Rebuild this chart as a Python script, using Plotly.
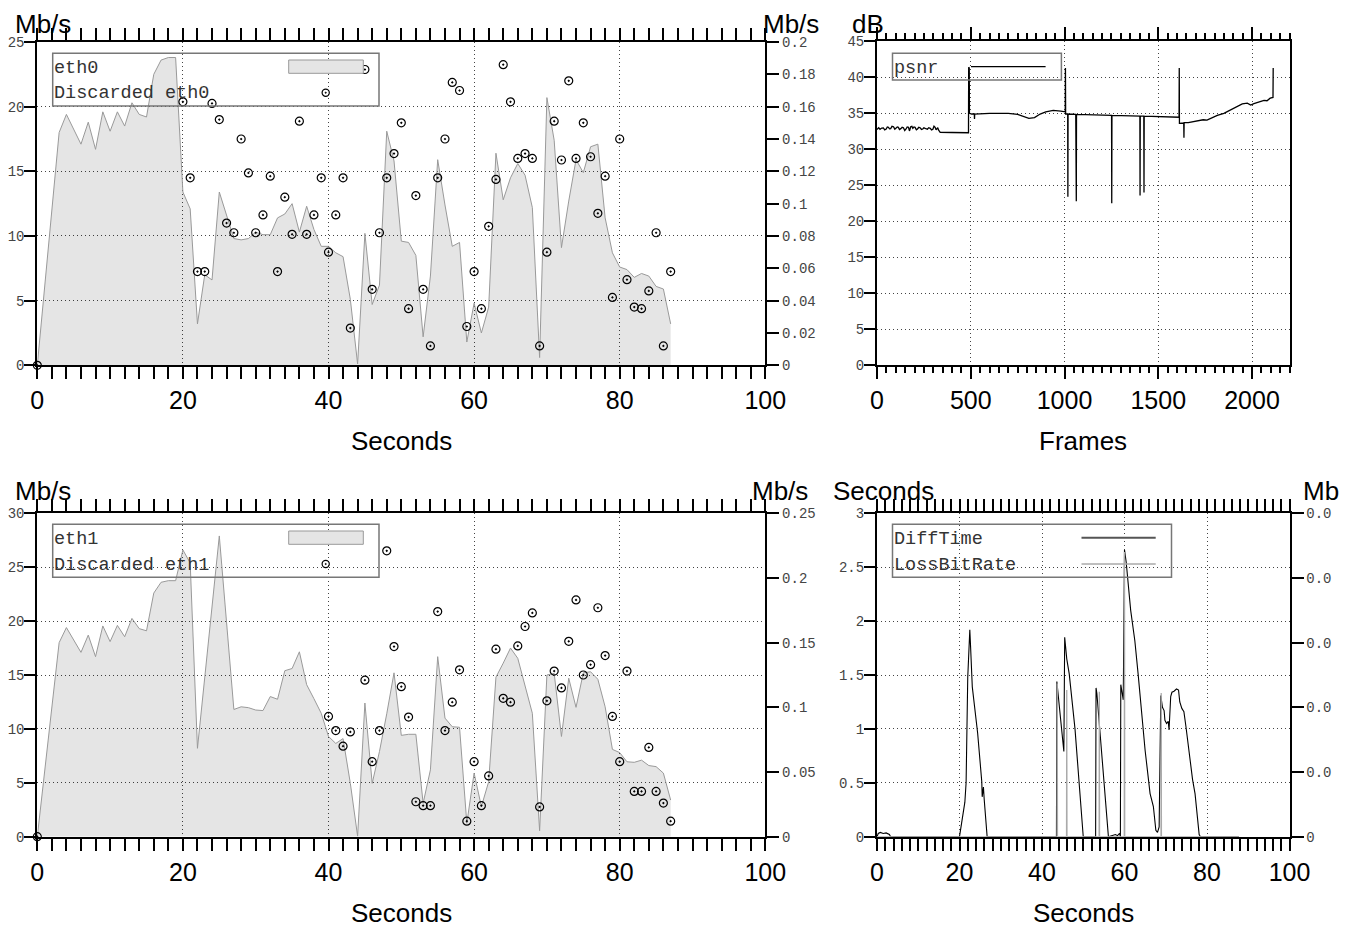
import plotly.graph_objects as go

# the page has an 8px body margin, so the figure is drawn 8px in from the top-left corner
OFF = 8
W, H = 1356 - OFF, 931 - OFF

# ---------------- data ----------------
eth0_t = [0, 3, 4, 6, 7, 8, 9, 10, 11, 12, 13, 14, 15, 16, 17, 18, 19, 20, 21, 22, 23, 24, 25, 26, 27, 28, 29,
          30, 31, 32, 33, 34, 35, 36, 37, 38, 39, 40, 41, 42, 43, 44, 45, 46, 47, 48, 49, 50, 51, 52, 53, 54,
          55, 56, 57, 58, 59, 60, 61, 62, 63, 64, 65, 66, 67, 68, 69, 70, 71, 72, 73, 74, 75, 76, 77, 78, 79,
          80, 81, 82, 83, 84, 85, 86, 87]
eth0_mbps = [0, 18.0, 19.4, 17.1, 18.8, 16.7, 19.6, 18.1, 19.6, 18.5, 20.3, 19.4, 19.2, 22.5, 23.6, 23.8, 23.8,
             13.4, 12.1, 3.2, 7.0, 6.6, 13.4, 11.6, 9.8, 9.7, 9.8,
             10.3, 10.1, 10.1, 11.4, 11.7, 12.5, 10.3, 12.3, 10.5, 9.2, 9.2, 8.7, 8.4, 5.1, 0.1, 10.2, 4.7, 6.2,
             18.1, 15.8, 9.6, 9.5, 8.5, 2.2, 6.9,
             15.9, 12.4, 9.2, 9.5, 1.8, 4.8, 2.5, 4.5, 16.4, 12.8, 14.5, 15.6, 14.7, 12.2, 0.6, 20.7, 17.4, 9.1,
             12.7, 15.9, 14.9, 16.9, 17.1, 11.4, 8.7,
             7.6, 7.4, 6.8, 7.1, 6.9, 6.1, 5.9, 3.2]

eth0_drop_t = [0, 20, 21, 22, 23, 24, 25, 26, 27, 28, 29, 30, 31, 32, 33, 34, 35, 36, 37, 38, 39, 40, 41, 42, 43,
               45, 46, 47, 48, 49, 50, 51, 52, 53, 54, 55, 56, 57, 58, 59, 60, 61, 62, 63, 64, 65, 66, 67, 68,
               69, 70, 71, 72, 73, 74, 75, 76, 77, 78, 79, 80, 81, 82, 83, 84, 85, 86, 87]
eth0_drop = [0, 0.163, 0.116, 0.058, 0.058, 0.162, 0.152, 0.088, 0.082, 0.140, 0.119, 0.082, 0.093, 0.117, 0.058,
             0.104, 0.081, 0.151, 0.081, 0.093, 0.116, 0.070, 0.093, 0.116, 0.023,
             0.183, 0.047, 0.082, 0.116, 0.131, 0.150, 0.035, 0.105, 0.047, 0.012, 0.116, 0.140, 0.175, 0.170,
             0.024, 0.058, 0.035, 0.086, 0.115, 0.186, 0.163, 0.128, 0.131, 0.128,
             0.012, 0.070, 0.151, 0.127, 0.176, 0.128, 0.150, 0.129, 0.094, 0.117, 0.042, 0.140, 0.053, 0.036,
             0.035, 0.046, 0.082, 0.012, 0.058]

eth1_t = [0, 3, 4, 6, 7, 8, 9, 10, 11, 12, 13, 14, 15, 16, 17, 18, 19, 20, 21, 22, 25, 27, 28, 29,
          30, 31, 32, 33, 34, 35, 36, 37, 38, 39, 40, 41, 42, 43, 44, 45, 46, 47, 48, 49, 50, 51, 52, 53, 54,
          55, 56, 57, 58, 59, 60, 61, 62, 63, 64, 65, 66, 67, 68, 69, 70, 71, 72, 73, 74, 75, 76, 77, 78, 79,
          80, 81, 82, 83, 84, 85, 86, 87]
eth1_mbps = [0, 18.0, 19.4, 17.1, 18.7, 16.7, 19.55, 18.1, 19.6, 18.55, 20.25, 19.3, 19.1, 22.6, 23.6, 23.75,
             23.75, 26.6, 25.4, 8.2, 27.9, 11.8, 12.05, 11.97,
             11.75, 11.7, 13.0, 12.75, 15.4, 15.6, 17.15, 14.1, 12.8, 11.45, 9.3, 8.65, 9.1, 4.95, 0.05, 12.4,
             4.95, 7.9, 11.4, 15.2, 9.4, 9.5, 9.5, 3.1, 6.2,
             16.7, 11.0, 10.2, 10.15, 1.25, 5.9, 2.8, 5.1, 14.8, 16.1, 17.5, 16.55, 14.1, 11.45, 0.55, 15.0,
             15.15, 9.3, 14.7, 12.0, 15.2, 15.3, 14.6, 12.05, 8.1,
             7.8, 6.95, 6.9, 7.1, 6.6, 6.5, 5.9, 3.4]

eth1_drop_t = [0, 40, 41, 42, 43, 45, 46, 47, 48, 49, 50, 51, 52, 53, 54, 55, 56, 57, 58, 59, 60, 61, 62, 63,
               64, 65, 66, 67, 68, 69, 70, 71, 72, 73, 74, 75, 76, 77, 78, 79, 80, 81, 82, 83, 84, 85, 86, 87]
eth1_drop = [0, 0.093, 0.082, 0.070, 0.081, 0.121, 0.058, 0.082, 0.221, 0.147, 0.116, 0.0925, 0.027, 0.024,
             0.024, 0.174, 0.082, 0.104, 0.129, 0.012, 0.058, 0.024, 0.047, 0.145,
             0.107, 0.104, 0.1475, 0.1625, 0.173, 0.023, 0.105, 0.128, 0.115, 0.151, 0.183, 0.125, 0.133,
             0.177, 0.140, 0.093, 0.058, 0.128, 0.035, 0.035, 0.069, 0.035, 0.026, 0.012]

psnr_frame = [0, 2, 9, 16, 25, 34, 41, 49, 55, 61, 67, 73, 80, 88, 95, 102, 108, 114, 120, 127, 134, 141, 148,
              155, 161, 168, 173, 180, 186, 191, 197, 203, 210, 216, 223, 230, 237, 244, 250, 257, 263, 269,
              276, 284, 291, 298, 304, 310, 315, 319, 324, 328, 337, 400, 488, 489, 492, 493, 505, 519, 520,
              521, 600, 700, 750, 780, 810, 840, 870, 900, 940, 980, 1004, 1005, 1006, 1017, 1018, 1019, 1060,
              1061, 1063, 1064, 1251, 1252, 1253, 1402, 1403, 1404, 1423, 1424, 1425, 1611, 1612, 1613, 1636,
              1637, 1638, 1660, 1690, 1707, 1740, 1760, 1778, 1815, 1850, 1880, 1903, 1930, 1948, 1975, 1993,
              2010, 2029, 2064, 2080, 2097, 2112, 2113]
psnr_db = [32.8, 32.8, 33.0, 32.78, 32.95, 32.96, 32.7, 32.82, 33.1, 33.05, 32.85, 32.87, 33.2, 33.14, 32.8,
           32.91, 33.1, 33.05, 32.75, 32.87, 33.05, 33.0, 32.6,
           32.82, 33.1, 33.05, 32.55, 33.14, 33.2, 32.91, 33.1, 33.05, 32.7, 32.82, 33.05, 33.0, 32.75, 32.82,
           33.0, 32.91, 32.85, 32.78,
           33.0, 32.91, 32.7, 32.78, 33.2, 33.05, 32.7, 32.82, 33.0, 32.68, 32.36, 32.33, 32.3, 41.4, 41.3,
           35.0, 34.9, 34.9, 34.2,
           34.9, 35.0, 35.0, 34.85, 34.55, 34.3, 34.4, 34.9, 35.2, 35.4, 35.3, 35.2, 41.3, 34.9, 34.9, 23.4,
           34.9, 34.85,
           22.8, 22.8, 34.85, 34.7, 22.5, 34.7, 34.6, 23.6, 34.6, 34.6, 24.0, 34.6, 34.45, 41.3, 33.6, 33.65,
           31.6, 33.7, 33.7, 33.85, 33.9, 34.1, 34.05, 34.3, 34.7, 35.0, 35.4, 35.7, 36.1, 36.3, 36.4, 36.15,
           36.35, 36.5, 36.8, 36.75, 37.1, 37.2, 41.3]

diff_t = [0, 0.3, 0.8, 1.5, 2.2, 3.0, 3.3, 20.0, 21.3, 21.6, 22.0, 22.3, 22.5, 22.7, 23.1, 24.4, 25.4, 25.5,
          25.8, 26.0, 26.7, 43.5, 43.6, 45.3, 45.5, 46.0, 46.6, 48.0, 49.0, 50.0, 53.0, 53.1, 53.3, 54.3, 55.3,
          56.1, 57.8, 58.3, 58.8, 59.0, 59.1, 59.7, 60.0, 60.4, 61.5, 62.5, 63.3, 64.1, 65.0, 66.2, 67.0, 67.6,
          68.0, 68.4, 68.8, 69.2, 69.6, 69.8, 70.2, 70.6, 70.8, 71.2, 71.5, 72.0, 72.6, 73.1, 73.4, 73.9, 74.4,
          74.9, 75.7, 76.5, 77.1, 77.6, 78.1, 78.4, 87.7]
diff_s = [0, 0.03, 0.04, 0.03, 0.035, 0.02, 0.0, 0.0, 0.32, 0.5, 1.48, 1.79, 1.92, 1.75, 1.39, 0.96, 0.51, 0.37,
          0.46, 0.34, 0.0, 0.0, 1.44, 0.79, 1.85, 1.65, 1.51, 1.0, 0.5, 0.0, 0.0, 1.38, 1.33, 0.85, 0.4,
          0.0, 0.02, 0.01, 0.03, 0.0, 1.41, 1.27, 2.66, 2.55, 2.1, 1.82, 1.51, 1.17, 0.80, 0.40, 0.28, 0.06,
          0.04, 0.09, 1.31, 1.20, 1.17, 1.08, 1.05, 1.07, 0.99, 1.30, 1.34, 1.35, 1.37, 1.36, 1.25, 1.19, 1.16,
          1.02, 0.77, 0.53, 0.40, 0.22, 0.02, 0.0, 0.0]

loss_t = [0, 43.65, 43.7, 43.75, 45.95, 46.0, 46.05, 53.85, 53.9, 53.95, 59.95, 60.0, 60.05, 68.85, 68.9,
          68.95, 87.7]
loss_mb = [0, 0, 0.0237, 0, 0, 0.0227, 0, 0, 0.0224, 0, 0, 0.044, 0, 0, 0.0222, 0, 0]

br_right_vals = [0, 0.01, 0.02, 0.03, 0.04, 0.05]
br_right_text = ["0", "0.0", "0.0", "0.0", "0.0", "0.0"]

# ---------------- helpers (positions given in page pixels) ----------------
def fx(px):
    return (px - OFF) / W


def fy(py):
    return 1 - (py - OFF) / H


TL = (37.3, 765.3, 42.0, 365.3)
TR = (877.0, 1289.5, 41.3, 365.3)
BL = (37.3, 765.3, 513.3, 836.7)
BR = (877.0, 1289.5, 513.3, 836.7)


def xdom(b):
    return [fx(b[0]), fx(b[1])]


def ydom(b):
    return [fy(b[3]), fy(b[2])]


MONO = "Liberation Mono, Courier New, monospace"
SANS = "Liberation Sans, Arial, sans-serif"
GRID = dict(showgrid=True, gridcolor="#444444", gridwidth=1, griddash="1px,3px")

fill_col = "rgba(0,0,0,0.1)"

fig = go.Figure()

# top-left
fig.add_trace(go.Scatter(x=eth0_t, y=eth0_mbps, mode="lines", fill="tozeroy", fillcolor=fill_col,
                         line=dict(color="#999999", width=1), xaxis="x", yaxis="y"))
fig.add_trace(go.Scatter(x=eth0_drop_t, y=eth0_drop, mode="markers", cliponaxis=False,
                         marker=dict(symbol="circle-open-dot", size=8, color="black", line=dict(width=1.2)),
                         xaxis="x", yaxis="y2"))
# top-right
fig.add_trace(go.Scatter(x=psnr_frame, y=psnr_db, mode="lines", line=dict(color="black", width=1.3),
                         xaxis="x2", yaxis="y3"))
# bottom-left
fig.add_trace(go.Scatter(x=eth1_t, y=eth1_mbps, mode="lines", fill="tozeroy", fillcolor=fill_col,
                         line=dict(color="#999999", width=1), xaxis="x3", yaxis="y4"))
fig.add_trace(go.Scatter(x=eth1_drop_t, y=eth1_drop, mode="markers", cliponaxis=False,
                         marker=dict(symbol="circle-open-dot", size=8, color="black", line=dict(width=1.2)),
                         xaxis="x3", yaxis="y5"))
# bottom-right
fig.add_trace(go.Scatter(x=loss_t, y=loss_mb, mode="lines", line=dict(color="#aaaaaa", width=1.3),
                         xaxis="x4", yaxis="y7"))
fig.add_trace(go.Scatter(x=diff_t, y=diff_s, mode="lines", line=dict(color="black", width=1.1),
                         xaxis="x4", yaxis="y6"))


def xax(b, rng, dtick, mdtick, anchor):
    return dict(domain=xdom(b), range=rng, dtick=dtick, anchor=anchor, showline=True, linecolor="black",
                linewidth=2, mirror="allticks", ticks="outside", ticklen=12, tickwidth=2, tickcolor="black",
                zeroline=False, automargin=False, tickfont=dict(family=SANS, size=25, color="black"),
                minor=dict(ticks="outside", ticklen=6, tickwidth=1.5, tickcolor="black", dtick=mdtick,
                           showgrid=False),
                **GRID)


def yax(b, rng, dtick, anchor, mirror=False):
    return dict(domain=ydom(b), range=rng, dtick=dtick, anchor=anchor, showline=True, linecolor="black",
                linewidth=2, mirror=mirror, ticks="outside", ticklen=11, tickwidth=2, tickcolor="black",
                ticklabelstandoff=-3,
                zeroline=False, automargin=False, tickfont=dict(family=MONO, size=14, color="#444444"),
                **GRID)


def yright(overlay, anchor, rng, **kw):
    d = dict(overlaying=overlay, anchor=anchor, side="right", range=rng, showline=True, linecolor="black",
             linewidth=2, ticks="outside", ticklen=12, tickwidth=2, tickcolor="black", showgrid=False,
             zeroline=False, automargin=False, tickfont=dict(family=MONO, size=14, color="#444444"))
    d.update(kw)
    return d


fig.update_layout(
    width=W, height=H, margin=dict(l=0, r=0, t=0, b=0, autoexpand=False), paper_bgcolor="white",
    plot_bgcolor="white", showlegend=False,
    xaxis=xax(TL, [0, 100], 20, 2, "y"),
    yaxis=yax(TL, [0, 25], 5, "x"),
    yaxis2=yright("y", "x", [0, 0.2], dtick=0.02),
    xaxis2=xax(TR, [0, 2200], 500, 50, "y3"),
    yaxis3=yax(TR, [0, 45], 5, "x2", mirror=True),
    xaxis3=xax(BL, [0, 100], 20, 2, "y4"),
    yaxis4=yax(BL, [0, 30], 5, "x3"),
    yaxis5=yright("y4", "x3", [0, 0.25], dtick=0.05),
    xaxis4=xax(BR, [0, 100], 20, 2, "y6"),
    yaxis6=yax(BR, [0, 3], 0.5, "x4"),
    yaxis7=yright("y6", "x4", [0, 0.05], tickvals=br_right_vals, ticktext=br_right_text),
)

ann = []


def text(s, x, y, size, family, color="black", xanchor="left", yanchor="middle"):
    ann.append(dict(text=s, x=fx(x), y=fy(y), xref="paper", yref="paper", xanchor=xanchor, yanchor=yanchor,
                    showarrow=False, borderpad=0, font=dict(family=family, size=size, color=color)))


# axis titles (top row anchored at the top edge of the figure so they are not clipped)
text("Mb/s", 14, 8.5, 26, SANS, yanchor="top")
text("Mb/s", 762, 8.5, 26, SANS, yanchor="top")
text("dB", 850.5, 8.5, 26, SANS, yanchor="top")
text("Mb/s", 14, 491, 26, SANS)
text("Mb/s", 751, 491, 26, SANS)
text("Seconds", 832, 491, 26, SANS)
text("Mb", 1302, 491, 26, SANS)
text("Seconds", 401, 441, 26, SANS, xanchor="center")
text("Frames", 1083, 441, 26, SANS, xanchor="center")
text("Seconds", 401, 913, 26, SANS, xanchor="center")
text("Seconds", 1083, 913, 26, SANS, xanchor="center")

# legend texts
LEG = 18.5
text("eth0", 53, 68.3, LEG, MONO, "#333333")
text("Discarded eth0", 53, 93.8, LEG, MONO, "#333333")
text("psnr", 893, 68.3, LEG, MONO, "#333333")
text("eth1", 53, 539.3, LEG, MONO, "#333333")
text("Discarded eth1", 53, 565, LEG, MONO, "#333333")
text("DiffTime", 893, 539.3, LEG, MONO, "#333333")
text("LossBitRate", 893, 565, LEG, MONO, "#333333")

shapes = []


def rect(x0, x1, y0, y1, line_col, lw, fill="rgba(0,0,0,0)"):
    shapes.append(dict(type="rect", xref="paper", yref="paper", x0=fx(x0), x1=fx(x1), y0=fy(y1), y1=fy(y0),
                       line=dict(color=line_col, width=lw), fillcolor=fill, layer="above"))


def hline(x0, x1, y, col, lw):
    shapes.append(dict(type="line", xref="paper", yref="paper", x0=fx(x0), x1=fx(x1), y0=fy(y), y1=fy(y),
                       line=dict(color=col, width=lw), layer="above"))


def circ(x, y, r, col, lw, fill="rgba(0,0,0,0)"):
    shapes.append(dict(type="circle", xref="paper", yref="paper", xsizemode="pixel", ysizemode="pixel",
                       xanchor=fx(x), yanchor=fy(y), x0=-r, x1=r, y0=-r, y1=r,
                       line=dict(color=col, width=lw), fillcolor=fill, layer="above"))


# legend boxes
rect(52.7, 379, 53.3, 106, "#777777", 1.5)
rect(288.7, 363.3, 60, 73.3, "#999999", 1, "#e5e5e5")
circ(325.7, 92.7, 3.6, "black", 1.2)
circ(325.7, 92.7, 0.6, "black", 0.8, "black")

rect(892.5, 1061.4, 53.3, 80, "#777777", 1.5)
hline(971, 1045.6, 66.7, "black", 1.2)

rect(52.7, 379, 524.3, 577.3, "#777777", 1.5)
rect(288.7, 363.3, 531, 544.3, "#999999", 1, "#e5e5e5")
circ(325.7, 564, 3.6, "black", 1.2)
circ(325.7, 564, 0.6, "black", 0.8, "black")

rect(892.5, 1171.5, 524.3, 577.3, "#777777", 1.5)
hline(1081.5, 1155.7, 537.7, "#555555", 2)
hline(1081.5, 1155.7, 564, "#aaaaaa", 1.5)

fig.update_layout(annotations=ann, shapes=shapes)

fig.write_html("out.html")
